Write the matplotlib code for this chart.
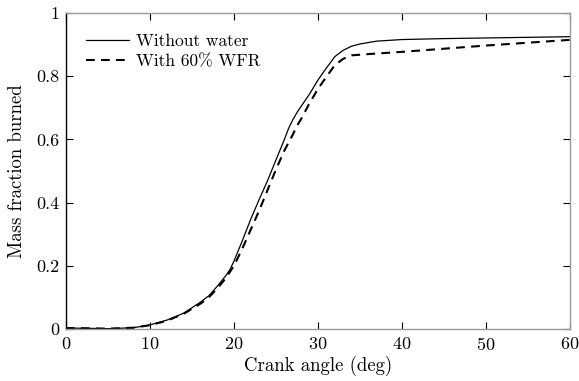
import matplotlib
matplotlib.use("Agg")
import matplotlib.pyplot as plt
import numpy as np

plt.rcParams['font.family'] = 'serif'
plt.rcParams['font.serif'] = ['cmr10', 'DejaVu Serif']
plt.rcParams['mathtext.fontset'] = 'cm'
plt.rcParams['axes.formatter.use_mathtext'] = True

angle_solid = [0, 3, 5, 8, 10, 12, 14, 16, 17, 18, 19, 19.5, 20, 21, 22, 23, 24, 25, 26, 26.5, 27, 27.5, 28, 29, 30, 31, 31.4, 32, 33, 34, 35, 37, 40, 45, 50, 55, 60]
mfb_solid = [0.003, 0.002, 0.001, 0.004, 0.013, 0.028, 0.05, 0.085, 0.105, 0.135, 0.168, 0.187, 0.215, 0.28, 0.348, 0.41, 0.47, 0.535, 0.6, 0.635, 0.662, 0.685, 0.705, 0.744, 0.788, 0.826, 0.84, 0.862, 0.882, 0.895, 0.902, 0.911, 0.916, 0.919, 0.921, 0.923, 0.925]

angle_dash = [0, 3, 5, 8, 10, 12, 14, 16, 17, 18, 19, 20, 21, 22, 23, 24, 25, 26, 27, 27.5, 28, 29, 30, 31, 32, 33, 34, 36, 40, 45, 50, 55, 60]
mfb_dash = [0.003, 0.002, 0.001, 0.004, 0.012, 0.026, 0.048, 0.08, 0.1, 0.128, 0.16, 0.2, 0.255, 0.315, 0.375, 0.44, 0.505, 0.565, 0.615, 0.643, 0.665, 0.715, 0.76, 0.798, 0.835, 0.855, 0.866, 0.87, 0.877, 0.887, 0.897, 0.906, 0.915]

xticks = [0, 10, 20, 30, 40, 50, 60]
yticks = [0, 0.2, 0.4, 0.6, 0.8, 1]
ytick_labels = ['0', '0.2', '0.4', '0.6', '0.8', '1']

fig = plt.figure(figsize=(5.79, 3.81), dpi=100)
ax = fig.add_axes([66/579, 1-329/381, (570-66)/579, (329-13)/381])

ax.plot(angle_solid, mfb_solid, color='black', lw=0.9, ls='-', label='Without water')
ax.plot(angle_dash, mfb_dash, color='black', lw=1.5, ls=(0, (4.2, 3.0)), label='With 60% WFR')

ax.set_xlim(0, 60)
ax.set_ylim(0, 1)
ax.set_xticks(xticks)
ax.set_yticks(yticks)
ax.set_yticklabels(ytick_labels)
ax.tick_params(direction='in', top=True, right=True, length=5, width=0.8, labelsize=13, colors='black', pad=5)
for s in ['top', 'right', 'bottom']:
    ax.spines[s].set_color('#999999')
ax.spines['left'].set_color('black')
for s in ax.spines.values():
    s.set_linewidth(1.0)

ax.set_xlabel('Crank angle (deg)', fontsize=13.5, labelpad=2)
ax.set_ylabel('Mass fraction burned', fontsize=13.5, labelpad=7)

ax.legend(loc='upper left', bbox_to_anchor=(0.026, 0.956), borderaxespad=0, frameon=False,
          fontsize=12.5, handlelength=2.5, handletextpad=0.35, labelspacing=0.28)

fig.savefig('out.png', dpi=100)
